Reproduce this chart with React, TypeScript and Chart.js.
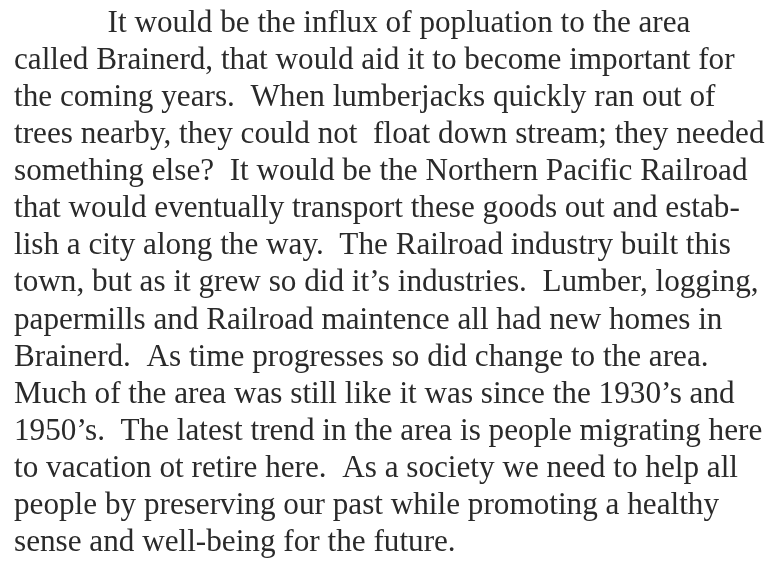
import React, { useEffect, useRef } from "react";
import { Chart, registerables } from "chart.js";

Chart.register(...registerables);

const indent = "            ";
const lines: string[] = [
  indent + "It would be the influx of popluation to the area",
  "called Brainerd, that would aid it to become important for",
  "the coming years.  When lumberjacks quickly ran out of",
  "trees nearby, they could not  float down stream; they needed",
  "something else?  It would be the Northern Pacific Railroad",
  "that would eventually transport these goods out and estab-",
  "lish a city along the way.  The Railroad industry built this",
  "town, but as it grew so did it\u2019s industries.  Lumber, logging,",
  "papermills and Railroad maintence all had new homes in",
  "Brainerd.  As time progresses so did change to the area.",
  "Much of the area was still like it was since the 1930\u2019s and",
  "1950\u2019s.  The latest trend in the area is people migrating here",
  "to vacation ot retire here.  As a society we need to help all",
  "people by preserving our past while promoting a healthy",
  "sense and well-being for the future.",
];

export default function App() {
  const ref = useRef<HTMLCanvasElement>(null);
  useEffect(() => {
    if (!ref.current) return;
    const chart = new Chart(ref.current, {
      type: "bar",
      data: { labels: [], datasets: [] },
      options: {
        animation: false,
        responsive: true,
        maintainAspectRatio: false,
        layout: { padding: { left: 6, right: 0, top: -3, bottom: 0 } },
        scales: { x: { display: false }, y: { display: false } },
        plugins: {
          legend: { display: false },
          tooltip: { enabled: false },
          title: {
            display: true,
            text: lines,
            align: "start",
            color: "#2a2a2a",
            font: { family: "'Liberation Serif', 'Times New Roman', serif", size: 31.2, weight: "normal", lineHeight: 37.1 / 31.2 },
            padding: { top: 0, bottom: 0 },
          },
        },
      },
    });
    return () => chart.destroy();
  }, []);
  return (
    <div style={{ width: 763, height: 554, background: "#ffffff" }}>
      <canvas ref={ref} />
    </div>
  );
}
